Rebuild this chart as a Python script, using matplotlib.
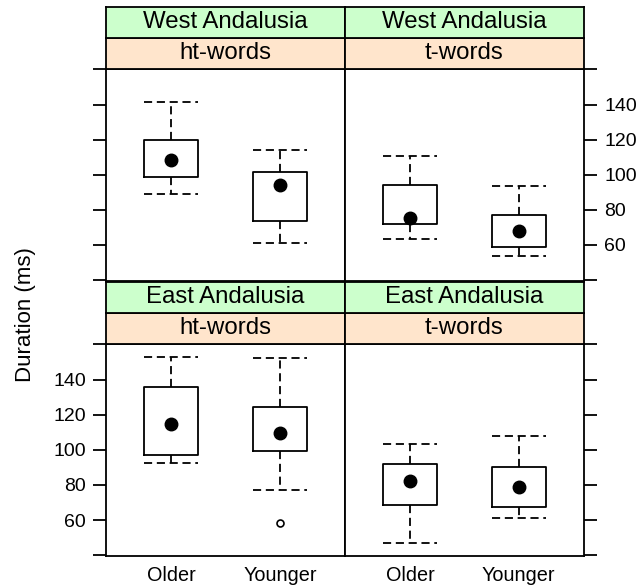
import matplotlib.pyplot as plt

plt.rcParams['font.family'] = ['Liberation Sans', 'DejaVu Sans']

ages = ['Older', 'Younger']
regions = ['West Andalusia', 'West Andalusia', 'East Andalusia', 'East Andalusia']
word_types = ['ht-words', 't-words', 'ht-words', 't-words']

# [lower whisker, q1, median, q3, upper whisker] for Older / Younger
west_ht = [[89.1, 99.0, 108.6, 119.6, 141.3], [61.3, 73.5, 93.9, 101.7, 113.9]]
west_t = [[63.4, 72.0, 75.3, 94.1, 110.9], [54.0, 58.7, 68.2, 77.0, 93.6]]
east_ht = [[92.6, 97.0, 114.6, 135.5, 153.1], [77.1, 99.2, 109.7, 124.1, 152.1]]
east_t = [[47.0, 68.4, 82.0, 91.7, 103.4], [61.0, 67.4, 78.8, 90.0, 107.8]]
outliers = [[[], []], [[], []], [[], [58.1]], [[], []]]

summaries = [west_ht, west_t, east_ht, east_t]

yticks = [40, 60, 80, 100, 120, 140, 160]
ytick_labels = ['', '60', '80', '100', '120', '140', '']

fig = plt.figure(figsize=(6.4, 5.86), dpi=100)

col_x = [0.1656, 0.539]
pw = 0.3734
row_y = [0.5205, 0.0512]  # panel bottoms
ph = 0.3625
sh = 0.0525
lw = 1.3
dash = (0, (4.5, 2.6))

for i in range(4):
    r, c = divmod(i, 2)
    x0, y0 = col_x[c], row_y[r]
    ax = fig.add_axes([x0, y0, pw, ph])

    stats = []
    for s, fl, lab in zip(summaries[i], outliers[i], ages):
        stats.append(dict(whislo=s[0], q1=s[1], med=s[2], q3=s[3], whishi=s[4],
                          fliers=fl, label=lab))
    ax.bxp(stats, positions=[1, 2], widths=0.5, capwidths=0.5, showfliers=True,
           boxprops=dict(color='black', lw=lw),
           whiskerprops=dict(color='black', lw=lw, linestyle=dash),
           capprops=dict(color='black', lw=lw, linestyle=dash),
           medianprops=dict(linestyle='none'),
           flierprops=dict(marker='o', markerfacecolor='white',
                           markeredgecolor='black', markersize=5, markeredgewidth=1.2))
    meds = [s[2] for s in summaries[i]]
    ax.plot([1, 2], meds, 'o', color='black', markersize=9, zorder=5)

    ax.set_xlim(0.4, 2.6)
    ax.set_ylim(39.5, 160.5)
    ax.set_yticks(yticks)
    ax.set_yticklabels(ytick_labels)
    for sp in ax.spines.values():
        sp.set_linewidth(lw)

    if c == 0:
        ax.yaxis.tick_left()
    else:
        ax.yaxis.tick_right()
    show_lab = (r == 0 and c == 1) or (r == 1 and c == 0)
    ax.tick_params(axis='y', direction='out', length=9.5, width=lw, pad=5,
                   labelsize=14, labelleft=show_lab and c == 0,
                   labelright=show_lab and c == 1)
    ax.tick_params(axis='x', length=0, pad=7, labelsize=14.3,
                   labelbottom=(r == 1))

    # strips: word type (orange) just above panel, region (green) above that
    for k, (txt, col) in enumerate([(word_types[i], '#ffe5cc'), (regions[i], '#ccffcc')]):
        sax = fig.add_axes([x0, y0 + ph + k * sh, pw, sh])
        sax.set_facecolor(col)
        sax.set_xticks([])
        sax.set_yticks([])
        for sp in sax.spines.values():
            sp.set_linewidth(lw)
        sax.text(0.5, 0.5, txt, ha='center', va='center', fontsize=17.3,
                 transform=sax.transAxes)

fig.text(0.04, 0.464, 'Duration (ms)', rotation=90, ha='center', va='center',
         fontsize=16)

fig.savefig('out.png', dpi=100)
